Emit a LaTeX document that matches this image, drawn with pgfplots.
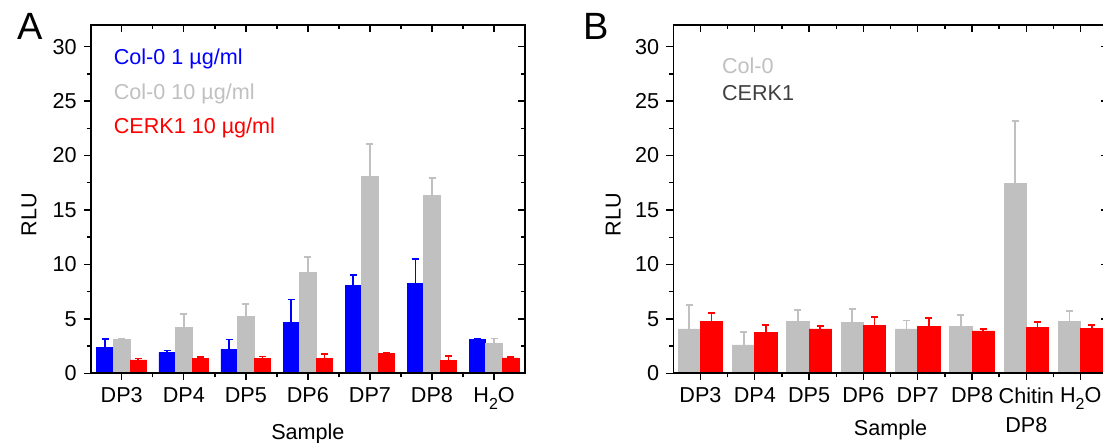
\documentclass[border=0pt]{standalone}
\usepackage{fontspec}
\setmainfont{Liberation Sans}
\usepackage{pgfplots}
\pgfplotsset{compat=1.18}

\definecolor{cblue}{RGB}{0,0,255}
\definecolor{cgray}{RGB}{192,192,192}
\definecolor{cred}{RGB}{255,0,0}
\definecolor{cdark}{RGB}{64,64,64}

\newcommand{\water}{H\raisebox{-0.32em}{\fontsize{8}{8}\selectfont 2}O}

\pgfplotsset{
  rlubase/.style={
    scale only axis, height=174.2pt, anchor=south west,
    ymin=0, ymax=32, ytick={0,5,...,30}, minor ytick={2.5,7.5,...,27.5},
    major tick length=3.5pt, minor tick length=2pt,
    axis line style={line width=0.8pt},
    every tick/.style={black, line width=0.7pt},
    font=\fontsize{10.8}{14.5}\selectfont,
    /pgf/number format/assume math mode=true,
  },
  front/.style={rlubase, xtick pos=bottom, ytick pos=left, tick align=outside,
    ylabel={RLU}, xlabel={Sample},
  },
  mirror/.style={rlubase, xtick pos=top, ytick pos=right, tick align=inside,
    xticklabels={}, yticklabels={}},
  errbar/.style={error bars/.cd, y dir=plus, y explicit, error mark=|,
    error bar style={line width=0.9pt, #1},
    error mark options={line width=0.9pt, mark size=1.75pt, #1}},
}

\begin{document}
\begin{tikzpicture}

% ---------- panel A ----------
\begin{axis}[front, at={(45.35pt,34.85pt)}, width=217.2pt,
    ybar=0pt, bar width=0.267,
    xmin=0.5, xmax=7.5, xtick={1,...,7}, minor xtick={1.5,2.5,...,6.5},
    xticklabels={DP3,DP4,DP5,DP6,DP7,DP8,\water},
    every axis y label/.style={at={(axis description cs:-0.142,0.4545)}, rotate=90, anchor=center},
    every axis x label/.style={at={(axis description cs:0.5,-0.191)}, anchor=base},
  ]
  % Col-0 1 ug/ml
  \addplot[fill=cblue, draw=cblue, errbar=cblue]
    table[x=x, y=y, y error=e] {
    x y e
    1 2.35 0.80
    2 1.89 0.20
    3 2.22 0.88
    4 4.68 2.10
    5 8.07 0.93
    6 8.24 2.28
    7 3.14 0.05
  };
  % Col-0 10 ug/ml
  \addplot[fill=cgray, draw=cgray, errbar=cgray]
    table[x=x, y=y, y error=e] {
    x y e
    1 3.14 0.04
    2 4.19 1.24
    3 5.20 1.15
    4 9.27 1.43
    5 18.04 3.05
    6 16.35 1.62
    7 2.71 0.48
  };
  % CERK1 10 ug/ml
  \addplot[fill=cred, draw=cred, errbar=cred]
    table[x=x, y=y, y error=e] {
    x y e
    1 1.23 0.13
    2 1.39 0.10
    3 1.36 0.18
    4 1.39 0.36
    5 1.80 0.05
    6 1.18 0.41
    7 1.41 0.06
  };
  \node[anchor=base west, text=cblue] at (rel axis cs:0.0368,0.885) {Col-0 1 µg/ml};
  \node[anchor=base west, text=cgray] at (rel axis cs:0.0368,0.786) {Col-0 10 µg/ml};
  \node[anchor=base west, text=cred] at (rel axis cs:0.0368,0.688) {CERK1 10 µg/ml};
\end{axis}
\begin{axis}[mirror, at={(45.35pt,34.85pt)}, width=217.2pt,
    xmin=0.5, xmax=7.5, xtick={1,...,7}, minor xtick={1.5,2.5,...,6.5}]
\end{axis}

% ---------- panel B ----------
\begin{axis}[front, at={(336.65pt,34.85pt)}, width=217.25pt,
    ybar=0pt, bar width=0.41,
    xmin=0.5, xmax=8.5, xtick={1,...,8}, minor xtick={1.5,2.5,...,7.5},
    xticklabels={DP3,DP4,DP5,DP6,DP7,DP8,Chitin\\DP8,\water},
    xticklabel style={align=center},
    every axis y label/.style={at={(axis description cs:-0.138,0.4545)}, rotate=90, anchor=center},
    every axis x label/.style={at={(axis description cs:0.5,-0.178)}, anchor=base},
  ]
  % Col-0
  \addplot[fill=cgray, draw=cgray, errbar=cgray]
    table[x=x, y=y, y error=e] {
    x y e
    1 4.07 2.17
    2 2.60 1.20
    3 4.78 1.01
    4 4.68 1.23
    5 4.07 0.77
    6 4.29 1.04
    7 17.40 5.77
    8 4.74 0.95
  };
  % CERK1
  \addplot[fill=cred, draw=cred, errbar=cred]
    table[x=x, y=y, y error=e] {
    x y e
    1 4.74 0.77
    2 3.76 0.71
    3 4.07 0.25
    4 4.38 0.82
    5 4.29 0.76
    6 3.89 0.18
    7 4.25 0.43
    8 4.10 0.31
  };
  \node[anchor=base west, text=cgray] at (rel axis cs:0.096,0.861) {Col-0};
  \node[anchor=base west, text=cdark] at (rel axis cs:0.096,0.783) {CERK1};
\end{axis}
\begin{axis}[mirror, at={(336.65pt,34.85pt)}, width=217.25pt,
    xmin=0.5, xmax=8.5, xtick={1,...,8}, minor xtick={1.5,2.5,...,7.5}]
\end{axis}

% panel letters
\node[anchor=base west, font=\fontsize{19}{22}\selectfont] at (5pt,201.5pt) {A};
\node[anchor=base west, font=\fontsize{19}{22}\selectfont] at (288pt,201.5pt) {B};

\pgfresetboundingbox
\path (0,0) rectangle (551.5pt,221.5pt);
\end{tikzpicture}
\end{document}
